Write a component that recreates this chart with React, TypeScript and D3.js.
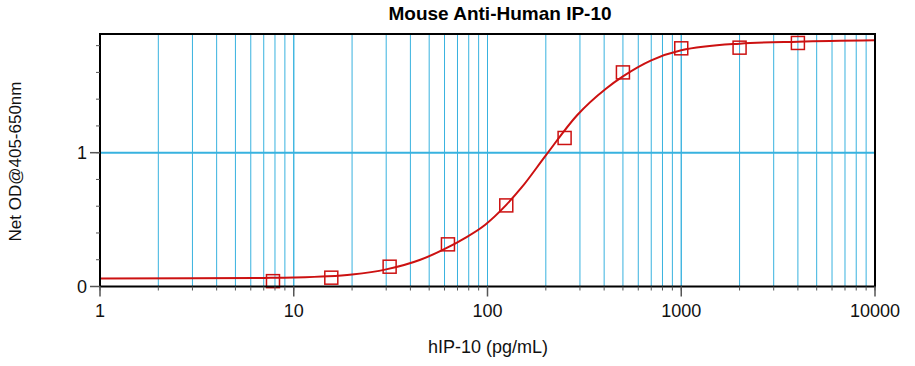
import React from "react";
import * as d3 from "d3";

const TITLE = "Mouse Anti-Human IP-10";
const X_LABEL = "hIP-10 (pg/mL)";
const Y_LABEL = "Net OD@405-650nm";

// Standards (pg/mL) and measured net OD
const stdConc = [7.8125, 15.625, 31.25, 62.5, 125, 250, 500, 1000, 2000, 4000];
const stdOD = [0.04, 0.066, 0.148, 0.315, 0.606, 1.11, 1.6, 1.78, 1.785, 1.82];

// Fitted curve
const curveConc = [1, 3, 7, 10, 15, 20, 30, 45, 62, 76, 97, 125, 150, 200, 290, 410, 500, 700, 1000, 2000, 4000, 10000];
const curveOD = [0.06, 0.061, 0.064, 0.067, 0.076, 0.09, 0.128, 0.2, 0.29, 0.36, 0.46, 0.61, 0.74, 0.98, 1.28, 1.48, 1.57, 1.69, 1.765, 1.815, 1.83, 1.84];

const xTickValues = [1, 10, 100, 1000, 10000];
const xTickLabels = ["1", "10", "100", "1000", "10000"];
const yTickValues = [0, 1];
const yTickLabels = ["0", "1"];

export default function App() {
  const W = 915, H = 366;
  const L = 100, R = 875, T = 34, B = 286.5;
  const x = d3.scaleLog().domain([1, 10000]).range([L, R]);
  const y = d3.scaleLinear().domain([0, 1.887]).range([B, T]);

  const minorX: number[] = [];
  for (let k = 0; k < 4; k++) {
    for (let m = 1; m <= 10; m++) {
      const v = m * Math.pow(10, k);
      if (v > 1 && v < 10000) minorX.push(v);
    }
  }
  const allXTicks: number[] = [];
  for (let k = 0; k < 4; k++) for (let m = 1; m < 10; m++) allXTicks.push(m * Math.pow(10, k));
  allXTicks.push(10000);
  const yMinor = d3.range(0, 1.81, 0.2);

  const line = d3
    .line<number>()
    .x((_, i) => x(curveConc[i]))
    .y((d) => y(d))
    .curve(d3.curveMonotoneX);

  const grid = "#38b2df";
  const red = "#cc1111";
  const font = "'Liberation Sans', Arial, sans-serif";

  return (
    <div style={{ position: "fixed", left: 0, top: 0 }}>
      <svg width={W} height={H} style={{ display: "block", background: "#fff" }} fontFamily={font}>
        <rect x={0} y={0} width={W} height={H} fill="#fff" />
        <defs>
          <clipPath id="plot">
            <rect x={L} y={T} width={R - L} height={B - T} />
          </clipPath>
        </defs>
        {minorX.map((v) => (
          <line key={"g" + v} x1={x(v)} x2={x(v)} y1={T} y2={B} stroke={grid} strokeWidth={1} />
        ))}
        <line x1={L} x2={R} y1={y(1)} y2={y(1)} stroke={grid} strokeWidth={2} />
        <g clipPath="url(#plot)">
          <path d={line(curveOD) || ""} fill="none" stroke={red} strokeWidth={2} />
        </g>
        {stdConc.map((c, i) => (
          <rect
            key={"p" + i}
            x={x(c) - 6.5}
            y={y(stdOD[i]) - 6.5}
            width={13}
            height={13}
            fill="none"
            stroke={red}
            strokeWidth={1.5}
          />
        ))}
        {/* frame */}
        <rect x={L} y={T} width={R - L} height={B - T} fill="none" stroke="#000" strokeWidth={2} />
        {/* y ticks */}
        {yMinor.map((v) => (
          <line key={"yt" + v} x1={L - 4} x2={L} y1={y(v)} y2={y(v)} stroke="#555" strokeWidth={1} />
        ))}
        {yTickValues.map((v, i) => (
          <g key={"ym" + v}>
            <line x1={L - 10} x2={L} y1={y(v)} y2={y(v)} stroke="#555" strokeWidth={1.5} />
            <text x={L - 13} y={y(v) + 6.5} textAnchor="end" fontSize={18} fill="#111">
              {yTickLabels[i]}
            </text>
          </g>
        ))}
        {/* x ticks */}
        {allXTicks.map((v) => (
          <line key={"xt" + v} x1={x(v)} x2={x(v)} y1={B} y2={B + 4} stroke="#555" strokeWidth={1} />
        ))}
        {xTickValues.map((v, i) => (
          <g key={"xm" + v}>
            <line x1={x(v)} x2={x(v)} y1={B} y2={B + 10} stroke="#555" strokeWidth={1.5} />
            <text x={x(v)} y={317} textAnchor="middle" fontSize={18} fill="#111">
              {xTickLabels[i]}
            </text>
          </g>
        ))}
        <text x={500} y={20} textAnchor="middle" fontSize={19} fontWeight="bold" fill="#000">
          {TITLE}
        </text>
        <text x={488} y={353} textAnchor="middle" fontSize={18} fill="#111">
          {X_LABEL}
        </text>
        <text
          transform={`translate(21, 161.5) rotate(-90)`}
          textAnchor="middle"
          fontSize={17}
          fill="#111"
        >
          {Y_LABEL}
        </text>
      </svg>
    </div>
  );
}
